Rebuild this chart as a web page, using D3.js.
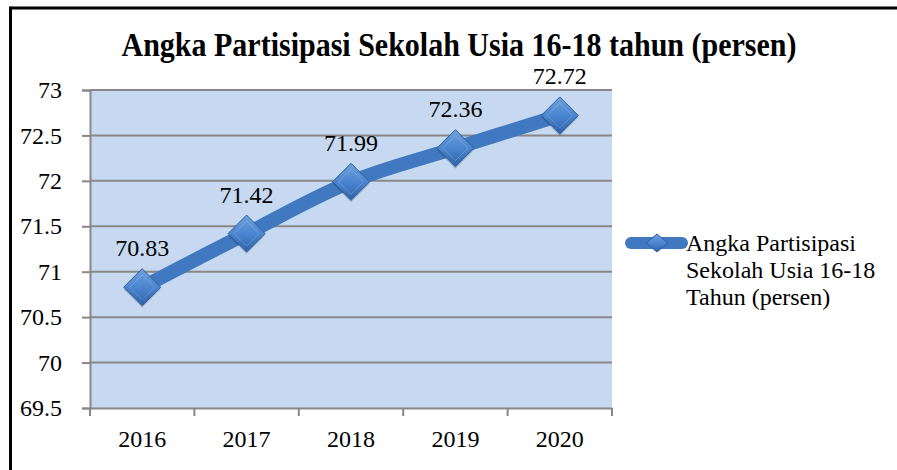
<!DOCTYPE html>
<html><head><meta charset="utf-8">
<script src="https://cdn.jsdelivr.net/npm/d3@7"></script>
<style>html,body{margin:0;padding:0;background:#fff;}svg{display:block;} text{font-family:"Liberation Serif","Tinos","Times New Roman","DejaVu Serif",serif;}</style>
</head><body>
<svg id="chart" width="897" height="470"></svg>
<script>
const title = "Angka Partisipasi Sekolah Usia 16-18 tahun (persen)";
const seriesName = ["Angka Partisipasi", "Sekolah Usia 16-18", "Tahun (persen)"];
const years = ["2016", "2017", "2018", "2019", "2020"];
const values = [70.83, 71.42, 71.99, 72.36, 72.72];
const yTicks = [69.5, 70, 70.5, 71, 71.5, 72, 72.5, 73];

const svg = d3.select("#chart");
const M = {left: 90, right: 612, top: 90, bottom: 408};

// border
svg.append("line").attr("x1", 10.5).attr("x2", 897).attr("y1", 8).attr("y2", 8).attr("stroke", "#000").attr("stroke-width", 3);
svg.append("line").attr("x1", 10.5).attr("x2", 10.5).attr("y1", 6.5).attr("y2", 470).attr("stroke", "#000").attr("stroke-width", 3);

const defs = svg.append("defs");
const g1 = defs.append("linearGradient").attr("id", "mk").attr("x1", "0").attr("y1", "0").attr("x2", "0").attr("y2", "1");
g1.append("stop").attr("offset", "0%").attr("stop-color", "#6fa0dc");
g1.append("stop").attr("offset", "50%").attr("stop-color", "#4a86d0");
g1.append("stop").attr("offset", "100%").attr("stop-color", "#2e62a8");

const x = d3.scaleBand().domain(years).range([M.left, M.right]);
const y = d3.scaleLinear().domain([69.5, 73]).range([M.bottom, M.top]);

svg.append("rect").attr("x", M.left).attr("y", M.top).attr("width", M.right - M.left).attr("height", M.bottom - M.top).attr("fill", "#c6d9f0");

// grid
svg.append("g").selectAll("line").data(yTicks.filter(d => d > 69.5)).join("line")
  .attr("x1", M.left).attr("x2", M.right).attr("y1", d => y(d)).attr("y2", d => y(d))
  .attr("stroke", "#888888").attr("stroke-width", 2);

// y axis
const ya = svg.append("g").attr("transform", `translate(${M.left},0)`)
  .call(d3.axisLeft(y).tickValues(yTicks).tickSize(8).tickPadding(20).tickFormat(d => d3.format("")(d)));
ya.attr("font-family", null).attr("font-size", null);
ya.select(".domain").attr("stroke", "#888888").attr("stroke-width", 2);
ya.selectAll(".tick line").attr("stroke", "#888888").attr("stroke-width", 2);
ya.selectAll("text").attr("font-size", 24).attr("fill", "#000");

// x axis
const xa = svg.append("g").attr("transform", `translate(0,${M.bottom})`)
  .call(d3.axisBottom(x).tickSize(0).tickPadding(22));
xa.attr("font-family", null).attr("font-size", null);
xa.select(".domain").attr("stroke", "#888888").attr("stroke-width", 2);
xa.selectAll("text").attr("font-size", 24).attr("fill", "#000");
svg.append("g").selectAll("line").data(years.concat(["end"])).join("line")
  .attr("x1", (d, i) => M.left + i * x.bandwidth()).attr("x2", (d, i) => M.left + i * x.bandwidth())
  .attr("y1", M.bottom).attr("y2", M.bottom + 8).attr("stroke", "#888888").attr("stroke-width", 2);

// line
const pts = years.map((yr, i) => [x(yr) + x.bandwidth() / 2, y(values[i])]);
svg.append("path").attr("d", d3.line().curve(d3.curveCatmullRom.alpha(0.5))(pts))
  .attr("fill", "none").attr("stroke", "#4079bf").attr("stroke-width", 14).attr("stroke-linecap", "round");

// markers
const R = 18.5;
const mg = svg.append("g").selectAll("g").data(pts).join("g").attr("transform", d => `translate(${d[0]},${d[1]})`);
mg.append("path").attr("d", `M0,${-R + 1}L${R},${2}L0,${R + 2}L${-R},${2}Z`).attr("fill", "rgba(0,0,0,0.18)");
mg.append("path").attr("d", `M0,${-R}L${R},0L0,${R}L${-R},0Z`).attr("fill", "url(#mk)").attr("stroke", "#2f5f9e").attr("stroke-width", 1);
mg.append("path").attr("d", `M0,${-R + 6}L${R - 6},0L0,${R - 6}L${-R + 6},0Z`).attr("fill", "none").attr("stroke", "rgba(255,255,255,0.18)").attr("stroke-width", 1);

// labels
svg.append("g").selectAll("text").data(pts).join("text")
  .attr("x", d => d[0]).attr("y", d => d[1] - 31).attr("text-anchor", "middle")
  .attr("font-size", 24).attr("fill", "#000")
  .text((d, i) => d3.format(".2f")(values[i]));

// title
svg.append("text").attr("x", 459).attr("y", 56).attr("text-anchor", "middle")
  .attr("font-weight", "bold").attr("font-size", 33)
  .attr("textLength", 675).attr("lengthAdjust", "spacingAndGlyphs").text(title);

// legend
const lg = svg.append("g").attr("transform", "translate(0,243)");
lg.append("line").attr("x1", 631).attr("x2", 682).attr("y1", 0).attr("y2", 0)
  .attr("stroke", "#4079bf").attr("stroke-width", 12).attr("stroke-linecap", "round");
lg.append("path").attr("d", "M657,-9L668,0L657,9L646,0Z").attr("fill", "url(#mk)").attr("stroke", "#2f5f9e").attr("stroke-width", 1);
lg.selectAll("text").data(seriesName).join("text")
  .attr("x", 686).attr("y", (d, i) => 8 + i * 27)
  .attr("font-size", 24).attr("fill", "#000").text(d => d);
</script>
</body></html>
